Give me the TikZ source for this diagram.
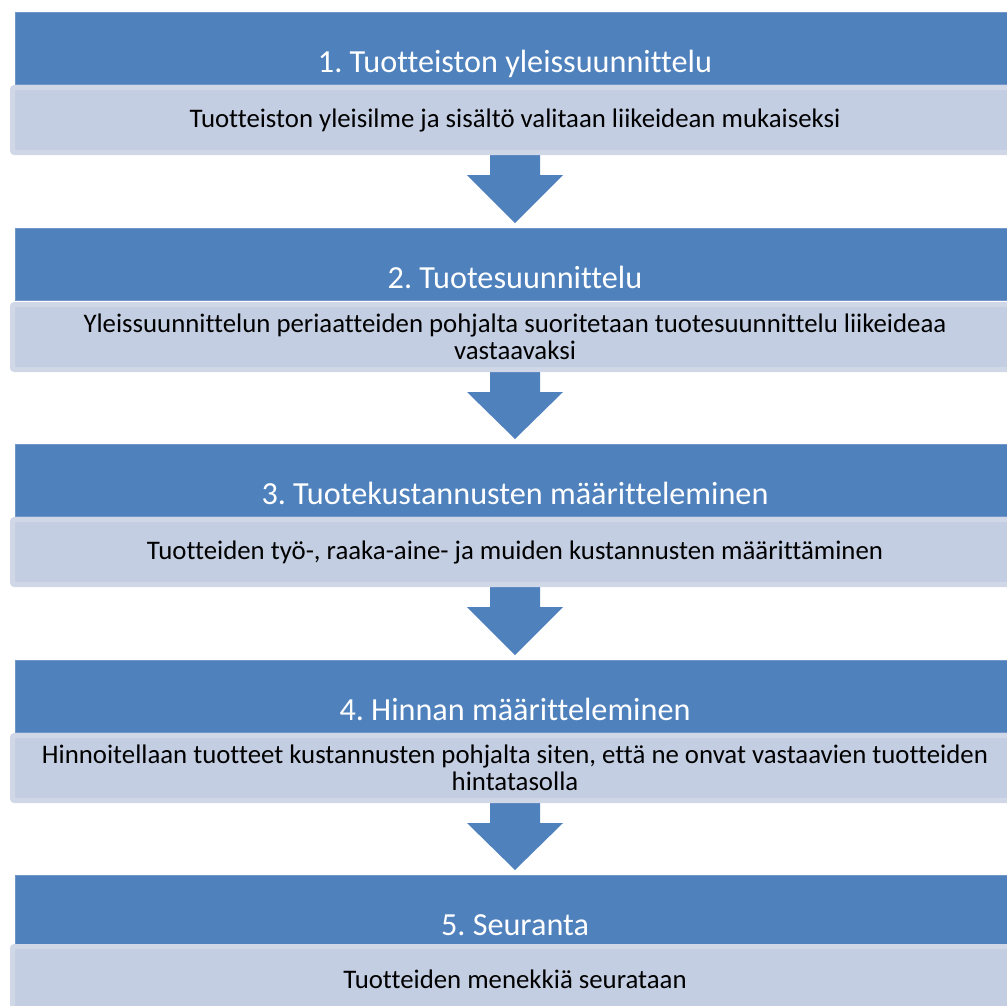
\documentclass[tikz,border=0pt]{standalone}
\usepackage{fontspec}
\setmainfont{Carlito}[Ligatures=NoCommon]
\frenchspacing
\usetikzlibrary{calc}
\definecolor{barblue}{HTML}{4F81BD}
\definecolor{barline}{HTML}{7396C8}
\definecolor{lightfill}{HTML}{C3CEE2}
\definecolor{lightedge}{HTML}{D0D8E8}
\begin{document}
\begin{tikzpicture}[x=1pt,y=-1pt,
  titlebar/.style={fill=barblue,draw=barline,line width=0.8pt,minimum width=1000pt,minimum height=72pt,inner sep=0pt,outer sep=0pt},
  titletext/.style={text=white,font=\fontsize{32.2}{40}\selectfont,anchor=base,inner sep=0pt},
  descbox/.style={fill=lightfill,draw=lightedge,line width=5pt,rounded corners=2pt,minimum width=1005pt,minimum height=65pt,inner sep=0pt,outer sep=2.5pt,align=center,font=\fontsize{26.8}{27}\selectfont},
  flowarrow/.style={fill=barblue}
]
\useasboundingbox (0,0) rectangle (1007,1005);
% stage title bars
\node[titlebar] (b1) at (515,48) {};
\node[titlebar] (b2) at (515,264) {};
\node[titlebar] (b3) at (515,480) {};
\node[titlebar] (b4) at (515,696) {};
\node[titlebar] (b5) at (515,911) {};
\coordinate (c1) at (515,120);
\coordinate (c2) at (515,337);
\coordinate (c3) at (515,552);
\coordinate (c4) at (515,768);
\coordinate (c5) at (515,979);
% arrows between description boxes and next title bars
\foreach \a/\b in {c1/b2,c2/b3,c3/b4,c4/b5}{
  \fill[flowarrow] ($(\a)+(-25,30)$) -- ($(\a)+(25,30)$) -- ($(\a)+(25,55)$) -- ($(\a)+(48,55)$)
    -- ($(\b.north)+(0,-5)$) -- ($(\a)+(-48,55)$) -- ($(\a)+(-25,55)$) -- cycle;
}
\node[descbox] (d1) at (c1) {Tuotteiston yleisilme ja sisältö valitaan liikeidean mukaiseksi};
\node[descbox] (d2) at (c2) {Yleissuunnittelun periaatteiden pohjalta suoritetaan tuotesuunnittelu liikeideaa\\vastaavaksi};
\node[descbox] (d3) at (c3) {Tuotteiden työ-, raaka-aine- ja muiden kustannusten määrittäminen};
\node[descbox] (d4) at (c4) {Hinnoitellaan tuotteet kustannusten pohjalta siten, että ne onvat vastaavien tuotteiden\\hintatasolla};
\node[descbox] (d5) at (c5) {Tuotteiden menekkiä seurataan};
\node[titletext] (t1) at (515,72) {1. Tuotteiston yleissuunnittelu};
\node[titletext] (t2) at (515,288) {2. Tuotesuunnittelu};
\node[titletext] (t3) at (515,504) {3. Tuotekustannusten määritteleminen};
\node[titletext] (t4) at (515,720) {4. Hinnan määritteleminen};
\node[titletext] (t5) at (515,935) {5. Seuranta};
\end{tikzpicture}
\end{document}
